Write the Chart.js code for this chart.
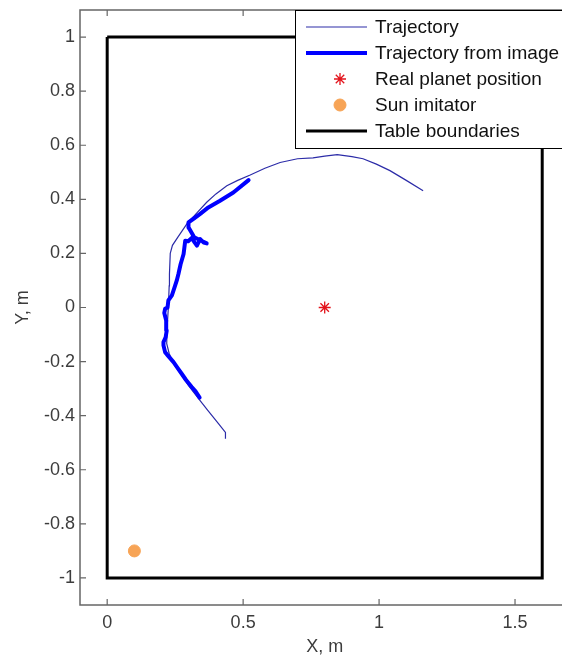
<!DOCTYPE html>
<html>
<head>
<meta charset="utf-8">
<script src="https://cdn.jsdelivr.net/npm/chart.js@4"></script>
<style>
  html, body { margin: 0; padding: 0; background: #fff; overflow: hidden; }
  #wrap { width: 580px; height: 659px; }
</style>
</head>
<body>
<div id="wrap"><canvas id="orbitChart" width="580" height="659"></canvas></div>
<script>
// simulated trajectory (thin line)
const trajX = [0.435, 0.435, 0.41, 0.37, 0.336, 0.30, 0.27, 0.244, 0.228, 0.219, 0.22, 0.225, 0.228, 0.229, 0.232, 0.240, 0.26, 0.293, 0.33, 0.366, 0.40, 0.44, 0.48, 0.526, 0.58, 0.636, 0.70, 0.757, 0.80, 0.846, 0.90, 0.941, 0.99, 1.04, 1.10, 1.162];
const trajY = [-0.485, -0.462, -0.43, -0.38, -0.337, -0.29, -0.245, -0.208, -0.17, -0.134, -0.08, 0.0, 0.08, 0.124, 0.2, 0.23, 0.26, 0.309, 0.35, 0.389, 0.42, 0.45, 0.47, 0.49, 0.515, 0.536, 0.55, 0.553, 0.56, 0.565, 0.558, 0.55, 0.53, 0.506, 0.47, 0.432];

// trajectory recovered from camera image (thick line)
const imgX = [0.34, 0.325, 0.311, 0.29, 0.274, 0.26, 0.244, 0.225, 0.213, 0.207, 0.207, 0.215, 0.219, 0.217, 0.21, 0.213, 0.222, 0.225, 0.238, 0.248, 0.256, 0.262, 0.27, 0.281, 0.287, 0.298, 0.311, 0.322, 0.33, 0.342, 0.355, 0.366, 0.35, 0.32, 0.30, 0.299, 0.32, 0.342, 0.372, 0.415, 0.464, 0.52];
const imgY = [-0.333, -0.31, -0.294, -0.268, -0.245, -0.225, -0.202, -0.18, -0.165, -0.14, -0.128, -0.11, -0.085, -0.048, -0.02, -0.005, 0.0, 0.026, 0.045, 0.075, 0.1, 0.124, 0.16, 0.198, 0.247, 0.245, 0.257, 0.24, 0.229, 0.253, 0.24, 0.237, 0.245, 0.26, 0.295, 0.315, 0.33, 0.346, 0.37, 0.395, 0.425, 0.471];

const planetX = [0.8];
const planetY = [0];
const sunX = [0.1];
const sunY = [-0.9];
const tableX = [0, 1.6, 1.6, 0, 0];
const tableY = [1, 1, -1, -1, 1];

const xTicks = [0, 0.5, 1, 1.5];
const yTicks = [-1, -0.8, -0.6, -0.4, -0.2, 0, 0.2, 0.4, 0.6, 0.8, 1];

const legendLabels = ['Trajectory', 'Trajectory from image', 'Real planet position', 'Sun imitator', 'Table boundaries'];

const pts = (xs, ys) => xs.map((x, i) => ({ x: x, y: ys[i] }));
const FONT = "'Liberation Sans', Arial, sans-serif";

// axes box with inward ticks, matlab style
const axesBox = {
    id: 'axesBox',
    beforeDatasetsDraw(chart) {
        const c = chart.ctx, a = chart.chartArea;
        const sx = chart.scales.x, sy = chart.scales.y;
        c.save();
        c.strokeStyle = '#666';
        c.lineWidth = 1.5;
        c.strokeRect(a.left, a.top, a.right - a.left, a.bottom - a.top);
        c.lineWidth = 1.2;
        c.beginPath();
        xTicks.forEach(v => {
            const px = sx.getPixelForValue(v);
            c.moveTo(px, a.bottom); c.lineTo(px, a.bottom - 6);
            c.moveTo(px, a.top); c.lineTo(px, a.top + 6);
        });
        yTicks.forEach(v => {
            const py = sy.getPixelForValue(v);
            c.moveTo(a.left, py); c.lineTo(a.left + 6, py);
            c.moveTo(a.right, py); c.lineTo(a.right - 6, py);
        });
        c.stroke();
        c.restore();
    }
};

// boxed legend in the upper right corner
const boxLegend = {
    id: 'boxLegend',
    afterDraw(chart) {
        const c = chart.ctx;
        const left = 295.5, top = 10.5, bottom = 148.5, right = 640;
        c.save();
        c.fillStyle = '#fff';
        c.fillRect(left, top, right - left, bottom - top);
        c.strokeStyle = '#000';
        c.lineWidth = 1;
        c.strokeRect(left, top, right - left, bottom - top);
        c.font = '19px ' + FONT;
        c.textBaseline = 'middle';
        chart.data.datasets.forEach((ds, i) => {
            const y = 27 + i * 26;
            if (ds.showLine) {
                c.strokeStyle = ds.borderColor;
                c.lineWidth = ds.borderWidth;
                c.beginPath();
                c.moveTo(306, y); c.lineTo(367, y);
                c.stroke();
            } else {
                const opts = { pointStyle: ds.pointStyle, radius: ds.pointRadius, borderWidth: ds.borderWidth };
                c.strokeStyle = ds.borderColor;
                c.fillStyle = ds.backgroundColor;
                c.lineWidth = ds.borderWidth;
                Chart.helpers.drawPoint(c, opts, 340, y);
            }
            c.fillStyle = '#111';
            c.fillText(ds.label, 375, y + 1);
        });
        c.restore();
    }
};

const ctx = document.getElementById('orbitChart').getContext('2d');
new Chart(ctx, {
    type: 'scatter',
    data: {
        datasets: [{
            label: legendLabels[0],
            data: pts(trajX, trajY),
            showLine: true,
            borderColor: '#2c2ca8',
            borderWidth: 1.2,
            pointRadius: 0,
            order: 4
        }, {
            label: legendLabels[1],
            data: pts(imgX, imgY),
            showLine: true,
            borderColor: '#0000ff',
            borderWidth: 4,
            borderJoinStyle: 'round',
            borderCapStyle: 'round',
            pointRadius: 0,
            order: 3
        }, {
            label: legendLabels[2],
            data: pts(planetX, planetY),
            pointStyle: 'star',
            pointRadius: 6,
            borderColor: '#e3141c',
            backgroundColor: '#e3141c',
            borderWidth: 1.3,
            order: 2
        }, {
            label: legendLabels[3],
            data: pts(sunX, sunY),
            pointStyle: 'circle',
            pointRadius: 6,
            borderColor: '#f7a456',
            backgroundColor: '#f7a456',
            borderWidth: 1,
            order: 1
        }, {
            label: legendLabels[4],
            data: pts(tableX, tableY),
            showLine: true,
            borderColor: '#000',
            borderWidth: 3,
            borderJoinStyle: 'miter',
            pointRadius: 0,
            order: 0
        }]
    },
    options: {
        responsive: false,
        animation: false,
        events: [],
        layout: { padding: { top: 10, right: 10.6, left: 0, bottom: 0 } },
        plugins: { legend: { display: false }, tooltip: { enabled: false } },
        scales: {
            x: {
                type: 'linear',
                min: -0.1,
                max: 1.7,
                afterBuildTicks: s => { s.ticks = xTicks.map(v => ({ value: v })); },
                afterFit: s => { s.height = 54; s.paddingLeft = 0; s.paddingRight = 0; },
                grid: { display: false, drawTicks: false },
                border: { display: false },
                ticks: { color: '#3c3c3c', font: { family: FONT, size: 18 }, padding: 7, maxRotation: 0, callback: v => String(v) },
                title: { display: true, text: 'X, m', color: '#3c3c3c', font: { family: FONT, size: 18 }, padding: { top: 0, bottom: 1 } }
            },
            y: {
                type: 'linear',
                min: -1.1,
                max: 1.1,
                afterBuildTicks: s => { s.ticks = yTicks.map(v => ({ value: v })); },
                afterFit: s => { s.width = 80; s.paddingTop = 0; s.paddingBottom = 0; },
                grid: { display: false, drawTicks: false },
                border: { display: false },
                ticks: { color: '#3c3c3c', font: { family: FONT, size: 18 }, padding: 5, callback: v => String(v) },
                title: { display: true, text: 'Y, m', color: '#3c3c3c', font: { family: FONT, size: 18 }, padding: { top: 12, bottom: 0 } }
            }
        }
    },
    plugins: [axesBox, boxLegend]
});
</script>
</body>
</html>
